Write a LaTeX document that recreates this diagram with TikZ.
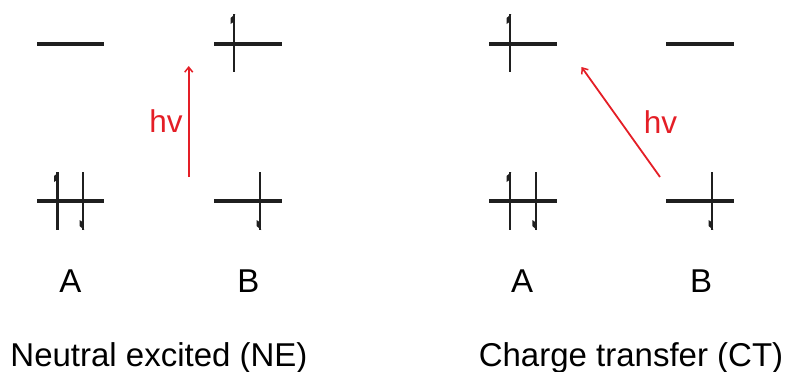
\documentclass[tikz,border=0pt]{standalone}
\usepackage{fontspec}
\setmainfont{Liberation Sans}
\usetikzlibrary{arrows.meta}
\definecolor{exred}{RGB}{228,30,38}
\tikzset{
  level/.style={line width=3.2pt, black!88},
  spinline/.style={line width=2.4pt, black!88},
  excite/.style={exred, line width=1.8pt, -{Straight Barb[length=5pt,width=8pt,line width=1.5pt]}},
  lbl/.style={inner sep=0pt, anchor=base, font=\fontsize{33}{38}\selectfont},
  hvlbl/.style={inner sep=0pt, anchor=base, text=exred, font=\fontsize{31.5}{36}\selectfont},
}
% electron with spin up / spin down (half-arrow barb on the left)
\newcommand\spinup[3]{% x, top, bottom
  \draw[spinline] (#1,#2) -- (#1,#3);
  \fill[black!88] (#1+1.2,#2) -- (#1-3.4,#2+4) -- (#1-3.4,#2+10) -- (#1-0.5,#2+8) -- cycle;}
\newcommand\spindown[3]{% x, top, bottom
  \draw[spinline] (#1,#2) -- (#1,#3);
  \fill[black!88] (#1+1.2,#3) -- (#1-3.4,#3-4) -- (#1-3.4,#3-10) -- (#1-0.5,#3-8) -- cycle;}
\begin{document}
\begin{tikzpicture}[x=1pt,y=-1pt]
\useasboundingbox (0,0) rectangle (787,372);

% ---------- neutral excited (NE) ----------
\draw[level] (37,44) -- (104,44);
\draw[level] (214,44) -- (282,44);
\draw[level] (37,201) -- (104,201);
\draw[level] (214,201) -- (282,201);
\spinup{234}{14}{72}
\spinup{57.5}{172}{230}
\spindown{83}{172}{230}
\spindown{260}{172}{230}

\coordinate (neS) at (188.7,177);
\coordinate (neE) at (188.7,66);
\draw[excite] (neS) -- (neE);
\node[hvlbl] (nehv) at (166,132) {hv};

\node[lbl] (neA) at (70.5,292) {A};
\node[lbl] (neB) at (248.5,292) {B};
\node[lbl] (necap) at (159,366) {Neutral excited (NE)};

% ---------- charge transfer (CT) ----------
\draw[level] (489,44) -- (557,44);
\draw[level] (666,44) -- (734,44);
\draw[level] (489,201) -- (557,201);
\draw[level] (666,201) -- (734,201);
\spinup{510}{14}{72}
\spinup{510}{172}{230}
\spindown{535.7}{172}{230}
\spindown{712}{172}{230}

\coordinate (ctS) at (660,177);
\coordinate (ctE) at (581.5,67);
\draw[excite] (ctS) -- (ctE);
\node[hvlbl] (cthv) at (660.5,133) {hv};

\node[lbl] (ctA) at (522,292) {A};
\node[lbl] (ctB) at (701,292) {B};
\node[lbl] (ctcap) at (631,366) {Charge transfer (CT)};
\end{tikzpicture}
\end{document}
